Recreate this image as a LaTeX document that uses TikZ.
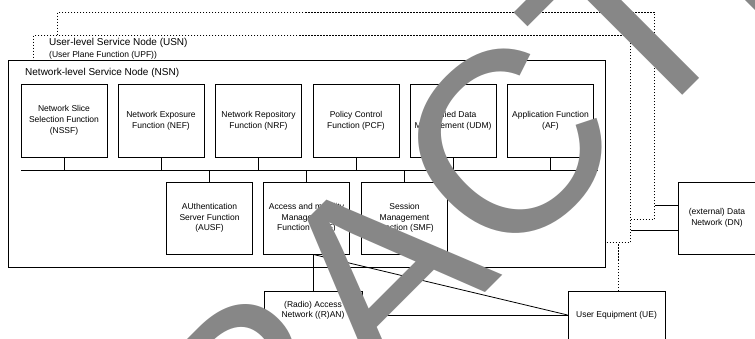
\documentclass[tikz,border=0pt]{standalone}
\usepackage{fontspec}
\setmainfont{Liberation Sans}

\begin{document}
\begin{tikzpicture}[x=1pt,y=-1pt,
  nf/.style={draw,line width=0.8pt,fill=white,align=center,inner sep=1pt,
    minimum width=86pt,minimum height=73pt,font=\fontsize{8.5}{10.8}\selectfont},
  layer/.style={fill=white,minimum width=597pt,minimum height=207pt,anchor=north west,inner sep=0pt},
  dotline/.style={line width=1pt,dash pattern=on 1.5pt off 1.5pt},
  wire/.style={line width=0.8pt},
  title/.style={anchor=west,inner sep=0pt,font=\fontsize{10}{12}\selectfont}]
  \useasboundingbox (0,0) rectangle (755,339);
  \clip (0,0) rectangle (755,339);

  % stacked service nodes
  \node[layer,draw,dotline] (bg) at (57,12) {};
  \node[layer,draw,dotline] (usn) at (33,35) {};
  \node[layer,draw,line width=1pt] (nsn) at (8,60) {};
  \node[title] (usnlabel) at (49,43) {User-level Service Node (USN)};
  \node[title,font=\fontsize{8.5}{10}\selectfont] (upflabel) at (49,55) {(User Plane Function (UPF))};
  \node[title] (nsnlabel) at (25,73) {Network-level Service Node (NSN)};

  % upper row of functions
  \node[nf] (nssf) at (64,120.5) {Network Slice\\Selection Function\\(NSSF)};
  \node[nf] (nef) at (161,120.5) {Network Exposure\\Function (NEF)};
  \node[nf] (nrf) at (258.5,120.5) {Network Repository\\Function (NRF)};
  \node[nf] (pcf) at (356,120.5) {Policy Control\\Function (PCF)};
  \node[nf] (udm) at (453,120.5) {Unified Data\\Management (UDM)};
  \node[nf] (af) at (550.5,120.5) {Application Function\\(AF)};

  % lower row
  \node[nf,minimum height=72pt] (ausf) at (209.5,218) {AUthentication\\Server Function\\(AUSF)};
  \node[nf,minimum height=72pt] (amf) at (306.5,218) {Access and mobility\\Management\\Function (AMF)};
  \node[nf,minimum height=72pt] (smf) at (404.5,218) {Session\\Management\\Function (SMF)};

  % bus
  \coordinate (busl) at (21,170);
  \coordinate (busr) at (598,170);
  \draw[wire] (busl) -- (busr);
  \draw[wire] (nssf.south) -- (nssf.south |- busl);
  \draw[wire] (nef.south) -- (nef.south |- busl);
  \draw[wire] (nrf.south) -- (nrf.south |- busl);
  \draw[wire] (pcf.south) -- (pcf.south |- busl);
  \draw[wire] (udm.south) -- (udm.south |- busl);
  \draw[wire] (af.south) -- (af.south |- busl);
  \draw[wire] (ausf.north) -- (ausf.north |- busl);
  \draw[wire] (amf.north) -- (amf.north |- busl);
  \draw[wire] (smf.north) -- (smf.north |- busl);

  % outside the nodes
  \node[nf,minimum width=98pt,minimum height=54pt,anchor=north] (ran) at (313,291) {(Radio) Access\\Network ((R)AN)\rule[-18pt]{0pt}{0pt}};
  \node[nf,minimum width=97pt,minimum height=54pt,anchor=north] (ue) at (616.5,291) {User Equipment (UE)\rule[-8pt]{0pt}{0pt}};
  \node[nf,minimum width=78pt,minimum height=72pt] (dn) at (717,218) {(external) Data\\Network (DN)};

  \coordinate (amfport) at ([xshift=6.5pt]amf.south);
  \coordinate (ueport) at ([yshift=-24pt]ue.north west);
  \coordinate (dnin) at ([yshift=13pt]dn.west);
  \coordinate (dnin2) at ([yshift=-12pt]dn.west);
  \draw[wire] (amfport) -- (amfport |- ran.north);
  \draw[wire] (amfport) -- (ueport);
  \draw[wire] (ran.east |- ueport) -- (ueport);
  \draw[wire] (dnin) -- (dnin -| bg.east);
  \draw[wire] (dnin2) -- (dnin2 -| usn.east);
  \draw[dotline] ([xshift=1.5pt]ue.north) -- ([xshift=1.5pt]ue.north |- usn.south);

  % stamp over the page
  \node[rotate=45,anchor=base west,inner sep=0pt,font=\fontsize{258}{258}\selectfont,
    text=black!47] (stamp) at (250,528) {RACTE};
\end{tikzpicture}
\end{document}
